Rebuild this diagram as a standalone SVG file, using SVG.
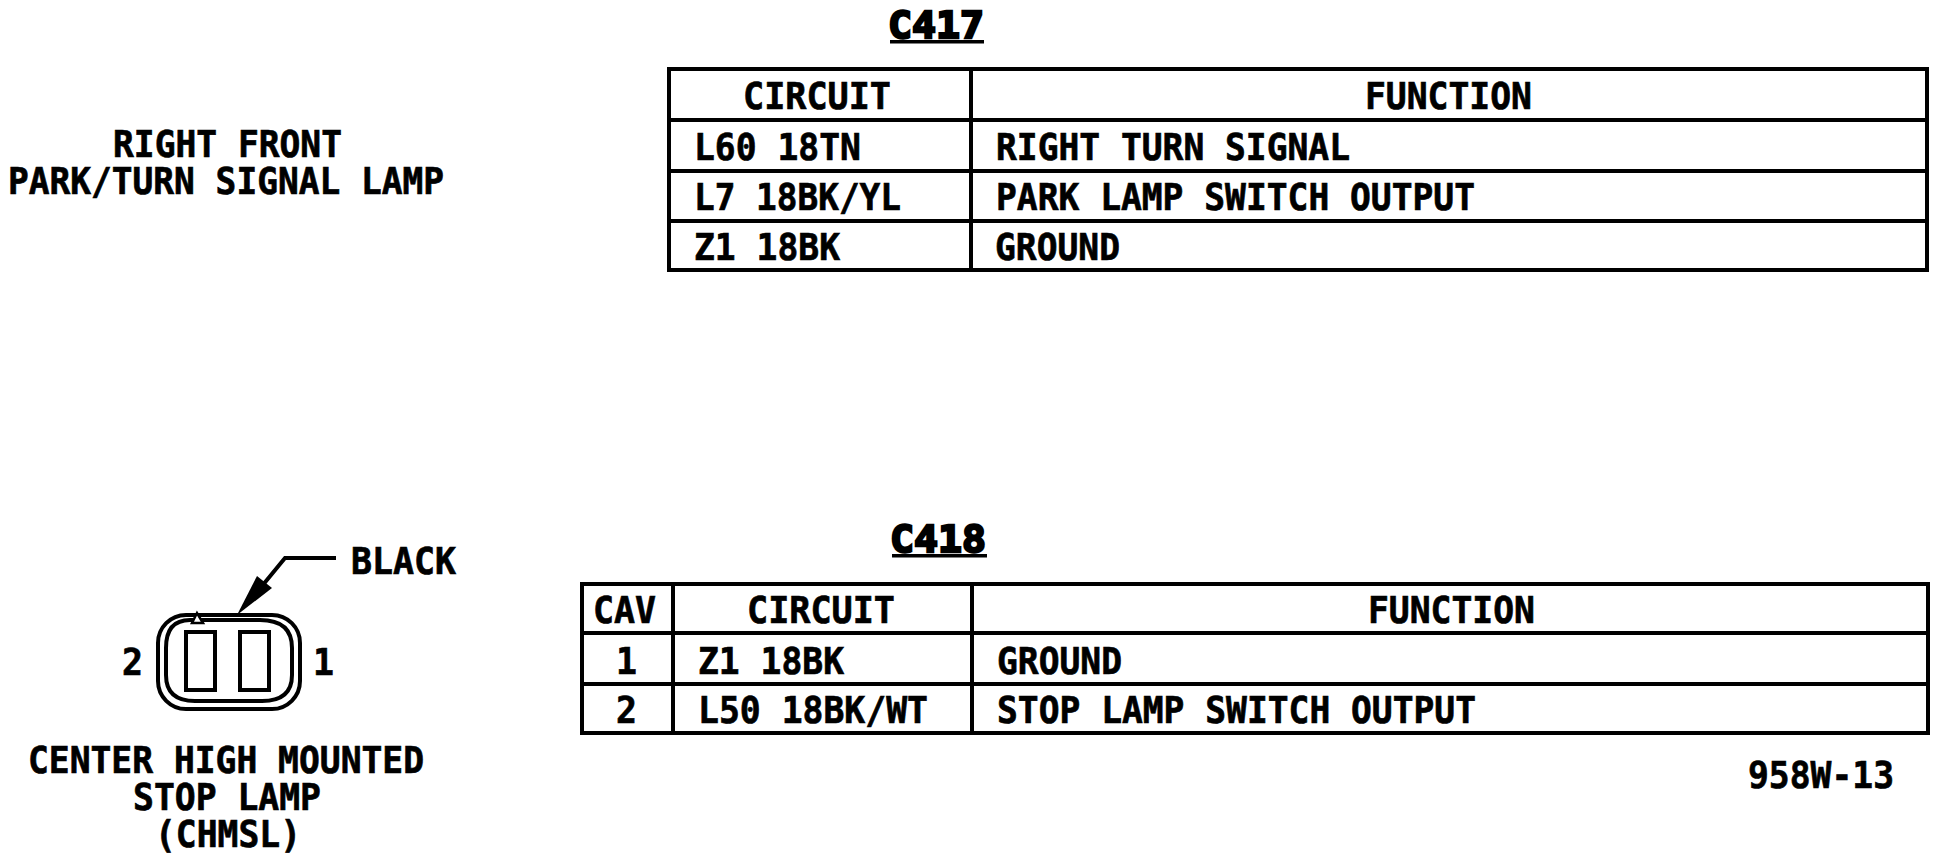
<svg xmlns="http://www.w3.org/2000/svg" width="1952" height="857" viewBox="0 0 1952 857">
<style>
text{font-family:"DejaVu Sans Mono","Liberation Mono",monospace;font-weight:700;font-size:38px;fill:#000;stroke:#000;stroke-width:.7px}
.h{stroke-width:2.4px}
.g{fill:none;stroke:#000;stroke-width:4}
.c{fill:none;stroke:#000;stroke-width:4}
</style>
<rect width="1952" height="857" fill="#fff"/>
<g id="label-right-front">
<text><tspan x="113" y="157" textLength="229" lengthAdjust="spacingAndGlyphs">RIGHT FRONT</tspan><tspan x="8" y="194" textLength="436" lengthAdjust="spacingAndGlyphs">PARK/TURN SIGNAL LAMP</tspan></text>
</g>
<g id="c417-title">
<text class="h" x="888" y="38" textLength="96" lengthAdjust="spacingAndGlyphs">C417</text>
<rect x="890" y="40" width="94" height="3.5"/>
</g>
<g id="c417-table">
<rect class="g" x="669" y="69" width="1258" height="201"/>
<path class="g" d="M971 69V270M669 120H1927M669 171H1927M669 221H1927"/>
<text x="743" y="109" textLength="148" lengthAdjust="spacingAndGlyphs">CIRCUIT</text>
<text x="1365" y="109" textLength="167" lengthAdjust="spacingAndGlyphs">FUNCTION</text>
<text x="694" y="160" textLength="167" lengthAdjust="spacingAndGlyphs">L60 18TN</text>
<text x="996" y="160" textLength="354" lengthAdjust="spacingAndGlyphs">RIGHT TURN SIGNAL</text>
<text x="694" y="210" textLength="207" lengthAdjust="spacingAndGlyphs">L7 18BK/YL</text>
<text x="996" y="210" textLength="479" lengthAdjust="spacingAndGlyphs">PARK LAMP SWITCH OUTPUT</text>
<text x="694" y="260" textLength="146" lengthAdjust="spacingAndGlyphs">Z1 18BK</text>
<text x="995" y="260" textLength="125" lengthAdjust="spacingAndGlyphs">GROUND</text>
</g>
<g id="c418-title">
<text class="h" x="890" y="552" textLength="96" lengthAdjust="spacingAndGlyphs">C418</text>
<rect x="892" y="554" width="95" height="3.5"/>
</g>
<g id="c418-table">
<rect class="g" x="582" y="584" width="1346" height="149"/>
<path class="g" d="M673 584V733M972 584V733M582 633H1928M582 684H1928"/>
<text x="593" y="623" textLength="63" lengthAdjust="spacingAndGlyphs">CAV</text>
<text x="747" y="623" textLength="148" lengthAdjust="spacingAndGlyphs">CIRCUIT</text>
<text x="1368" y="623" textLength="167" lengthAdjust="spacingAndGlyphs">FUNCTION</text>
<text x="616" y="674" textLength="21" lengthAdjust="spacingAndGlyphs">1</text>
<text x="698" y="674" textLength="146" lengthAdjust="spacingAndGlyphs">Z1 18BK</text>
<text x="997" y="674" textLength="125" lengthAdjust="spacingAndGlyphs">GROUND</text>
<text x="616" y="723" textLength="21" lengthAdjust="spacingAndGlyphs">2</text>
<text x="698" y="723" textLength="230" lengthAdjust="spacingAndGlyphs">L50 18BK/WT</text>
<text x="997" y="723" textLength="479" lengthAdjust="spacingAndGlyphs">STOP LAMP SWITCH OUTPUT</text>
</g>
<g id="part-number">
<text x="1748" y="788" textLength="146" lengthAdjust="spacingAndGlyphs">958W-13</text>
</g>
<g id="chmsl-connector">
<rect class="c" x="158" y="615" width="142" height="94" rx="28"/>
<path class="c" d="M190 620H260Q292 620 292 648V675Q292 701 262 701H195Q166 701 166 675V648Q166 620 190 620Z"/>
<path d="M192 623L197 613L203 623Z" fill="#fff" stroke="#000" stroke-width="2.5"/>
<rect class="c" x="186" y="632" width="29" height="58"/>
<rect class="c" x="240" y="632" width="29" height="58"/>
<text x="122" y="675" textLength="21" lengthAdjust="spacingAndGlyphs">2</text>
<text x="313" y="675" textLength="21" lengthAdjust="spacingAndGlyphs">1</text>
</g>
<g id="connectors">
<path class="c" d="M336 558H285L262 586"/>
<path d="M237 615L257 576L272 588Z" fill="#000"/>
</g>
<g id="label-black">
<text x="351" y="574" textLength="105" lengthAdjust="spacingAndGlyphs">BLACK</text>
</g>
<g id="label-chmsl">
<text><tspan x="28" y="773" textLength="396" lengthAdjust="spacingAndGlyphs">CENTER HIGH MOUNTED</tspan><tspan x="133" y="810" textLength="188" lengthAdjust="spacingAndGlyphs">STOP LAMP</tspan><tspan x="155" y="847" textLength="146" lengthAdjust="spacingAndGlyphs">(CHMSL)</tspan></text>
</g>
</svg>
